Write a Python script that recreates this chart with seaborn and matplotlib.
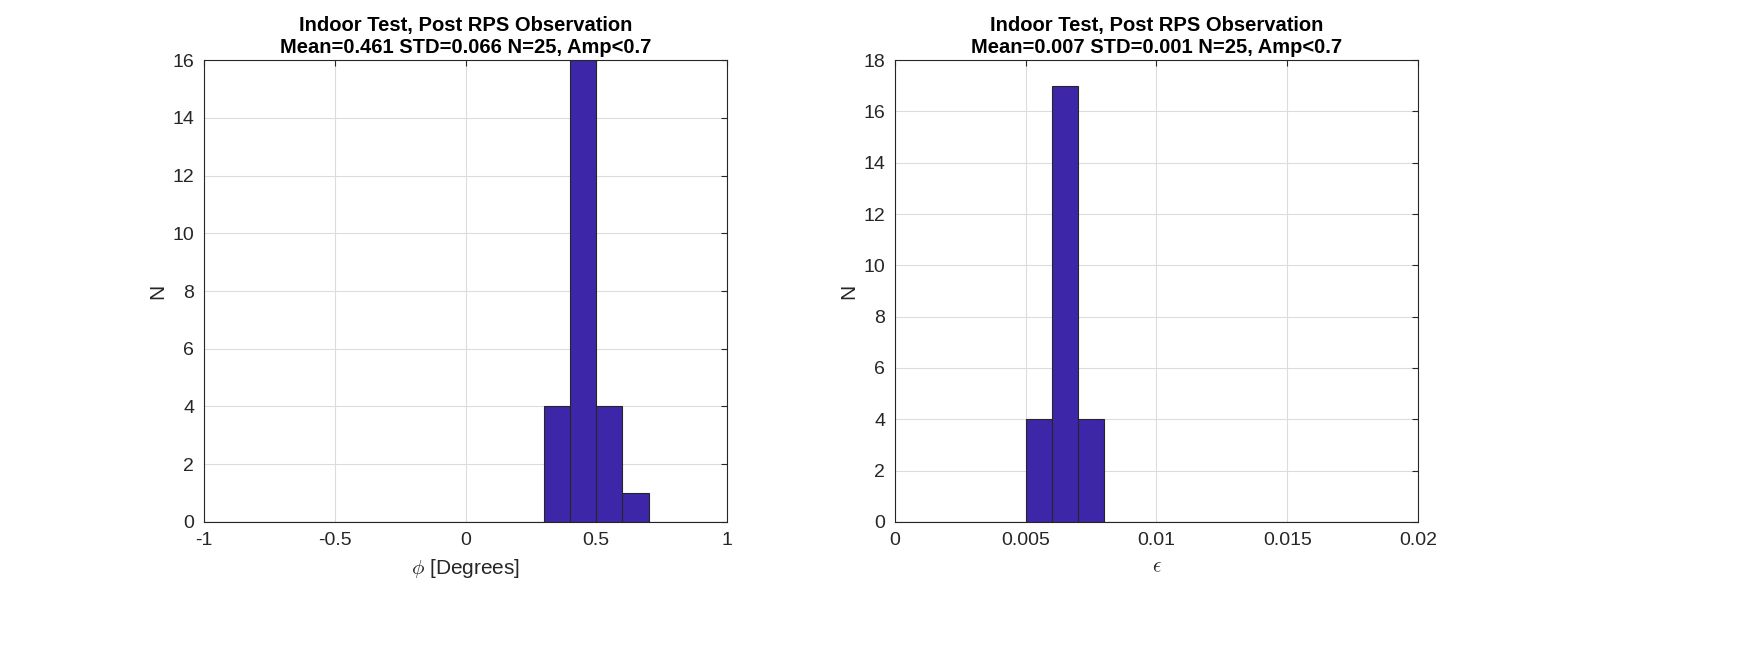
import numpy as np
import pandas as pd
import matplotlib
matplotlib.use("Agg")
import matplotlib.pyplot as plt
import seaborn as sns

# histogram counts per bin
phi_counts = [0, 0, 0, 0, 0, 0, 0, 0, 0, 0, 0, 0, 0, 4, 16, 4, 1, 0, 0, 0]
eps_counts = [0, 0, 0, 0, 0, 4, 17, 4, 0, 0, 0, 0, 0, 0, 0, 0, 0, 0, 0, 0]
phi_range = (-1.0, 1.0)
eps_range = (0.0, 0.02)

phi_ticks = [-1, -0.5, 0, 0.5, 1]
phi_ticklabels = ["-1", "-0.5", "0", "0.5", "1"]
eps_ticks = [0, 0.005, 0.01, 0.015, 0.02]
eps_ticklabels = ["0", "0.005", "0.01", "0.015", "0.02"]

titles = [
    "Indoor Test, Post RPS Observation\nMean=0.461 STD=0.066 N=25, Amp<0.7",
    "Indoor Test, Post RPS Observation\nMean=0.007 STD=0.001 N=25, Amp<0.7",
]
xlabels = [r"$\phi$ [Degrees]", r"$\epsilon$"]

BAR_COLOR = "#3e26a8"
TEXT_COLOR = "#262626"

sns.set_style("white")
plt.rcParams["font.family"] = ["Liberation Sans", "DejaVu Sans"]
plt.rcParams["mathtext.fontset"] = "cm"


def make_frame(counts, value_range):
    edges = np.linspace(value_range[0], value_range[1], len(counts) + 1)
    centers = (edges[:-1] + edges[1:]) / 2
    return pd.DataFrame({"center": centers, "count": counts})


def draw_hist(ax, counts, value_range, ticks, ticklabels, ymax, title, xlabel):
    frame = make_frame(counts, value_range)
    sns.histplot(data=frame, x="center", weights="count", bins=len(counts),
                 binrange=value_range, ax=ax,
                 color=BAR_COLOR, alpha=1.0, edgecolor="#262626", linewidth=0.8)
    ax.set_xlim(*value_range)
    ax.set_ylim(0, ymax)
    ax.set_xticks(ticks)
    ax.set_xticklabels(ticklabels)
    ax.set_yticks(range(0, ymax + 1, 2))
    ax.grid(True, color="#dcdcdc", linewidth=0.8)
    ax.set_axisbelow(True)
    for spine in ax.spines.values():
        spine.set_visible(True)
        spine.set_color(TEXT_COLOR)
        spine.set_linewidth(0.8)
    ax.tick_params(direction="in", length=4, top=True, right=True,
                   labelsize=14, colors=TEXT_COLOR, pad=7)
    ax.set_title(title, fontsize=14.5, fontweight="bold", color="black", pad=5)
    ax.set_xlabel(xlabel, fontsize=15, color=TEXT_COLOR, labelpad=6)
    ax.set_ylabel("N", fontsize=15, color=TEXT_COLOR, labelpad=4)


fig = plt.figure(figsize=(17.5, 6.56), dpi=100)
ax1 = fig.add_axes([0.1166, 0.2043, 0.2988, 0.7042])
ax2 = fig.add_axes([0.5114, 0.2043, 0.2989, 0.7042])

draw_hist(ax1, phi_counts, phi_range, phi_ticks, phi_ticklabels, 16, titles[0], xlabels[0])
draw_hist(ax2, eps_counts, eps_range, eps_ticks, eps_ticklabels, 18, titles[1], xlabels[1])

fig.savefig("out.png", dpi=100)
